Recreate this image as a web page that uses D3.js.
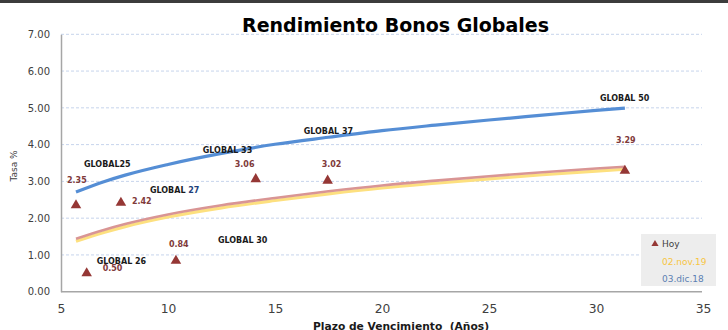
<!DOCTYPE html>
<html><head><meta charset="utf-8">
<script src="https://cdn.jsdelivr.net/npm/d3@7/dist/d3.min.js"></script>
<style>
html,body{margin:0;padding:0;background:#fff;}
svg{display:block;font-family:"DejaVu Sans",Verdana,sans-serif;}
</style></head>
<body>
<svg id="chart" width="728" height="330"></svg>
<script>
// ---- data ----
const bondNames = ["GLOBAL25","GLOBAL 26","GLOBAL 27","GLOBAL 30","GLOBAL 33","GLOBAL 37","GLOBAL 50"];
const hoyYears  = [5.7, 6.2, 7.8, 10.37, 14.1, 17.46, 31.35];
const hoyRates  = [2.35, 0.50, 2.42, 0.84, 3.06, 3.02, 3.29];
const curveYears = [5.7, 7, 8, 10, 12.5, 15, 17.5, 20, 22.5, 25, 27.5, 30, 31.35];
const dic18Rates = [2.71, 2.99, 3.17, 3.46, 3.76, 4.01, 4.20, 4.38, 4.53, 4.67, 4.80, 4.93, 4.99];
const nov19Rates = [1.37, 1.61, 1.77, 2.03, 2.28, 2.48, 2.66, 2.82, 2.95, 3.07, 3.18, 3.28, 3.33];
const hoyTrend   = [1.44, 1.68, 1.84, 2.10, 2.35, 2.55, 2.73, 2.89, 3.02, 3.14, 3.25, 3.35, 3.40];
const yTicks = [0,1,2,3,4,5,6,7];
const xTicks = [5,10,15,20,25,30,35];
const legendLabels = ["Hoy","02.nov.19","03.dic.18"];
const titleText = "Rendimiento Bonos Globales";
const xTitle = "Plazo de Vencimiento  (Años)";
const yTitle = "Tasa %";

// ---- layout (label offsets in px relative to marker) ----
const valueOffsets = [[-9,-22],[16,-2],[11,1],[-7,-14],[-21,-12],[-6,-14],[-9,-28]];
const nameOffsets  = [[8,-38],[10,-9],[29,-10],[42,-18],[-53,-26],[-24,-47],[-25,-70]];

const svg = d3.select("#chart");
const W = 728, H = 330;
const x = d3.scaleLinear().domain([5,35]).range([61,703]);
const y = d3.scaleLinear().domain([0,7]).range([291.7,34.3]);

// top frame bar
svg.append("rect").attr("x",0).attr("y",0).attr("width",W).attr("height",3).attr("fill","#3c3c3c");

// grid
svg.append("g").selectAll("line").data(yTicks.filter(d=>d>0)).join("line")
  .attr("x1",x(5)).attr("x2",x(35)-1).attr("y1",d=>y(d)).attr("y2",d=>y(d))
  .attr("stroke","#c6d4ec").attr("stroke-width",1).attr("stroke-dasharray","3,2");

// axes
const yAxis = svg.append("g").attr("transform",`translate(${x(5)},0)`)
  .call(d3.axisLeft(y).tickValues(yTicks).tickFormat(d3.format(".2f")).tickSize(0).tickPadding(11));
const xAxis = svg.append("g").attr("transform",`translate(0,${y(0)})`)
  .call(d3.axisBottom(x).tickValues(xTicks).tickSize(0).tickPadding(13));
[yAxis,xAxis].forEach(a=>{
  a.select(".domain").attr("stroke","#a6a6a6").attr("stroke-width",1.5);
  a.selectAll("text").attr("fill","#404040").attr("font-family","DejaVu Sans");
});
yAxis.selectAll("text").attr("font-size",10);
xAxis.selectAll("text").attr("font-size",12.3);
xAxis.select(".domain").attr("d",`M${x(5)},0H${x(35)-1}`);

// curves
const line = d3.line().x(d=>x(d[0])).y(d=>y(d[1])).curve(d3.curveMonotoneX);
const mk = arr => curveYears.map((yr,i)=>[yr,arr[i]]);
svg.append("path").attr("d",line(mk(nov19Rates))).attr("fill","none").attr("stroke","#fde07f").attr("stroke-width",3.2);
svg.append("path").attr("d",line(mk(hoyTrend))).attr("fill","none").attr("stroke","#d99594").attr("stroke-width",2.6);
svg.append("path").attr("d",line(mk(dic18Rates))).attr("fill","none").attr("stroke","#558ed5").attr("stroke-width",3.2);

// Hoy markers
const tri = d3.symbol().type(d3.symbolTriangle).size(48);
svg.append("g").selectAll("path").data(hoyRates).join("path")
  .attr("d",tri).attr("fill","#953735")
  .attr("transform",(d,i)=>`translate(${x(hoyYears[i])},${y(d)})`);

// value labels
svg.append("g").selectAll("text").data(hoyRates).join("text")
  .attr("x",(d,i)=>x(hoyYears[i])+valueOffsets[i][0])
  .attr("y",(d,i)=>y(d)+valueOffsets[i][1])
  .attr("font-size",8).attr("font-weight","bold").attr("fill","#7f3a3a")
  .text(d=>d3.format(".2f")(d));

// bond name labels
const nl = svg.append("g").selectAll("text").data(bondNames).join("text")
  .attr("x",(d,i)=>x(hoyYears[i])+nameOffsets[i][0])
  .attr("y",(d,i)=>y(hoyRates[i])+nameOffsets[i][1])
  .attr("font-size",8).attr("font-weight","bold").attr("fill","#1a1a1a")
  .style("white-space","pre");
nl.each(function(d){
  const t = d3.select(this);
  if (d === "GLOBAL 27") {
    t.append("tspan").text("GLOBAL ");
    t.append("tspan").attr("fill","#1f3f7a").text("27");
  } else t.text(d);
});

// title
svg.append("text").attr("x",395.5).attr("y",32).attr("text-anchor","middle")
  .attr("font-size",19).attr("font-weight","bold").attr("fill","#000").text(titleText);

// x title
svg.append("text").attr("x",401).attr("y",330).attr("text-anchor","middle")
  .attr("font-size",10.7).attr("font-weight","bold").attr("fill","#1a1a1a")
  .style("white-space","pre").text(xTitle);

// y title
svg.append("text").attr("transform","translate(17,166) rotate(-90)").attr("text-anchor","middle")
  .attr("font-size",9).attr("fill","#404040").text(yTitle);

// legend
const lg = svg.append("g");
lg.append("rect").attr("x",641).attr("y",234).attr("width",75).attr("height",52).attr("fill","#ededed");
const legColors = ["#404040","#f7c542","#5b7fb3"];
lg.selectAll("text").data(legendLabels).join("text")
  .attr("x",662).attr("y",(d,i)=>247+i*17.5)
  .attr("font-size",9).attr("fill",(d,i)=>legColors[i]).text(d=>d);
lg.append("path").attr("d",d3.symbol().type(d3.symbolTriangle).size(22))
  .attr("fill","#953735").attr("transform","translate(655,244)");
</script>
</body></html>
